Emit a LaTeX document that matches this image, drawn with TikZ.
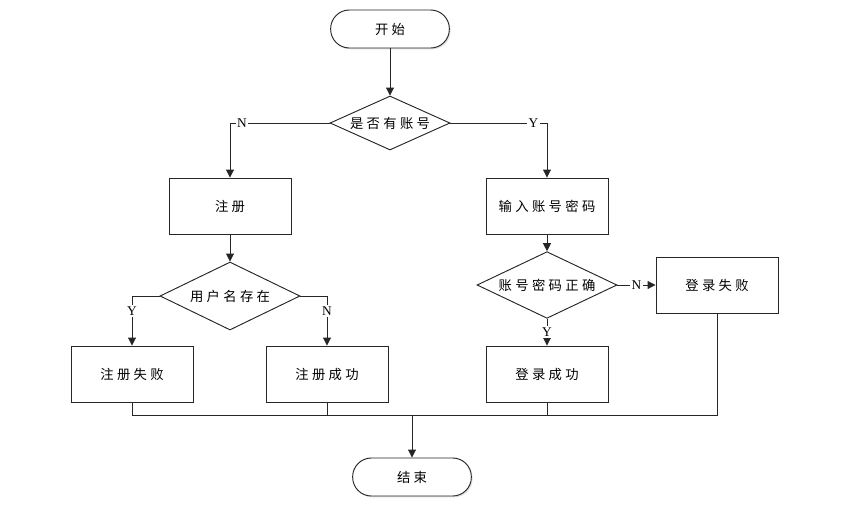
\documentclass[tikz,border=0pt]{standalone}
\usepackage{fontspec}
\setmainfont{Liberation Serif}
\newfontfamily\cjk[LetterSpace=25]{Noto Sans CJK SC}
\usetikzlibrary{shapes.geometric,arrows.meta,shadows}

\begin{document}
\begin{tikzpicture}[x=0.75pt, y=-0.75pt, line width=0.7pt, draw=black!85,
  every node/.style={font=\fontsize{10}{12}\selectfont\cjk},
  shade/.style={drop shadow={shadow xshift=1pt, shadow yshift=-1pt, fill=black!20, opacity=0.6}},
  term/.style={draw, fill=white, shade, rounded corners=14pt, minimum width=89pt, minimum height=28.5pt},
  proc/.style={draw, fill=white, shade, minimum width=91.5pt, minimum height=42pt},
  dec/.style={draw, fill=white, diamond, shape aspect=2.2, inner xsep=-12pt, inner ysep=-4pt},
  yn/.style={font=\fontsize{10}{12}\selectfont\rmfamily, fill=white, inner sep=1pt},
  arr/.style={-{Triangle[length=6pt,width=6pt]}}]

\useasboundingbox (0,0) rectangle (868,515);

\node [term] (start) at (390,29) {开始};
\node [dec, minimum width=90pt, minimum height=40.5pt] (ask) at (390,123) {是否有账号};
\node [proc] (reg) at (230,206) {注册};
\node [proc] (input) at (547,206) {输入账号密码};
\node [dec, minimum width=105pt, minimum height=51pt] (exist) at (230,296) {用户名存在};
\node [dec, minimum width=105pt, minimum height=50pt] (check) at (547,285) {账号密码正确};
\node [proc] (regfail) at (132,374) {注册失败};
\node [proc] (regok) at (327,374) {注册成功};
\node [proc] (logfail) at (717,285) {登录失败};
\node [proc] (logok) at (547,374) {登录成功};
\node [term] (end) at (412,477) {结束};
\coordinate (bus) at (412,415);

\begin{scope}[arr]
\draw (start) -- (ask);
\draw (ask.west) -| node [yn, pos=0.44] {N} (reg.north);
\draw (ask.east) -| node [yn, pos=0.43] {Y} (input.north);
\draw (reg) -- (exist);
\draw (exist.west) -| node [yn, pos=0.65] {Y} (regfail.north);
\draw (exist.east) -| node [yn, pos=0.65] {N} (regok.north);
\draw (input) -- (check);
\draw (check) -- node [yn] {N} (logfail);
\draw (check) -- node [yn] {Y} (logok);
\draw (bus) -- (end);
\end{scope}

\draw (regfail.south) |- (bus -| logfail) -- (logfail.south);
\draw (regok.south) -- (regok.south |- bus);
\draw (logok.south) -- (logok.south |- bus);

\end{tikzpicture}
\end{document}
